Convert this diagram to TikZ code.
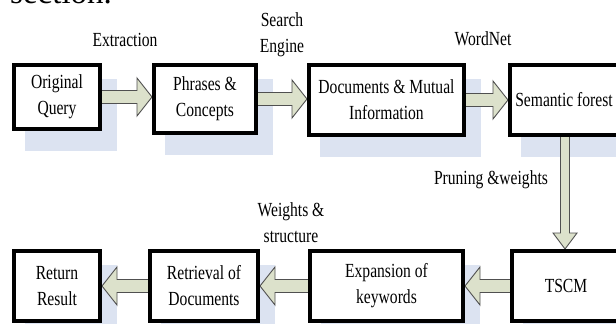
\documentclass[tikz,border=0pt]{standalone}
\usepackage{fontspec}
\setmainfont{Liberation Serif}[FakeStretch=0.78]
\newfontfamily\bodyfont{Liberation Serif}
\usetikzlibrary{calc,backgrounds}
\definecolor{shadowblue}{HTML}{DCE3F1}
\definecolor{arrowfill}{HTML}{DCE1CB}
\definecolor{arrowline}{HTML}{505050}
\tikzset{
  box/.style={draw=black, line width=4pt, fill=white, align=center,
    font=\fontsize{20}{26}\selectfont, inner sep=0pt},
  lbl/.style={align=center, font=\fontsize{20}{26}\selectfont, inner sep=0pt},
  barrow/.style={fill=arrowfill, draw=arrowline, line width=0.9pt, line join=miter},
  shade/.style={fill=shadowblue, draw=none},
}
\newcommand\boxshadow[1]{\fill[shade] ([shift={(13,16)}]#1.north west) rectangle ([shift={(15,20)}]#1.south east);}
\newcommand\arrowright[2]{\draw[barrow] let \p1=(#1.east), \p2=(#2.west) in
  (\x1-3pt,\y1+6.5pt) -- (\x2-15pt,\y1+6.5pt) -- (\x2-15pt,\y1+19pt) -- (\x2,\y1)
  -- (\x2-15pt,\y1-19pt) -- (\x2-15pt,\y1-6.5pt) -- (\x1-3pt,\y1-6.5pt) -- cycle;}
\newcommand\arrowleft[2]{\draw[barrow] let \p1=(#1.west), \p2=(#2.east) in
  (\x1+3pt,\y1+6.5pt) -- (\x2+15pt,\y1+6.5pt) -- (\x2+15pt,\y1+19pt) -- (\x2,\y1)
  -- (\x2+15pt,\y1-19pt) -- (\x2+15pt,\y1-6.5pt) -- (\x1+3pt,\y1-6.5pt) -- cycle;}
\newcommand\arrowdown[2]{\draw[barrow] let \p1=(#1.south), \p2=(#2.north) in
  (\x1-4.5pt,\y1+3pt) -- (\x1-4.5pt,\y2+16pt) -- (\x1-12pt,\y2+16pt) -- (\x1,\y2)
  -- (\x1+12pt,\y2+16pt) -- (\x1+4.5pt,\y2+16pt) -- (\x1+4.5pt,\y1+3pt) -- cycle;}
\begin{document}
\begin{tikzpicture}[x=1pt,y=-1pt]
\useasboundingbox (0,0) rectangle (616,324);
\clip (0,0) rectangle (616,324);

\node[anchor=base west, inner sep=0pt, font=\bodyfont\fontsize{33}{33}\selectfont] (sec) at (10,4) {section.};

% top row
\node[box, minimum width=86, minimum height=64] (oq) at (57,97) {Original\\Query};
\node[box, minimum width=102, minimum height=68] (pc) at (205,99) {Phrases \&\\Concepts};
\node[box, minimum width=155, minimum height=70] (dm) at (386.5,100) {Documents \& Mutual\\Information};
\node[box, minimum width=110, minimum height=70] (sf) at (565,100) {Semantic forest\hspace{2pt}};

% bottom row
\node[box, minimum width=108, minimum height=70] (ts) at (566,286) {TSCM};
\node[box, minimum width=153, minimum height=70] (ek) at (386.5,286) {Expansion of\\keywords};
\node[box, minimum width=108, minimum height=70] (rd) at (204,286) {Retrieval of\\Documents};
\node[box, minimum width=86, minimum height=70] (rr) at (57,286) {Return\\Result};

% labels
\node[lbl] (l1) at (125,40) {Extraction};
\node[lbl] (l2) at (282,35) {Search\\Engine};
\node[lbl] (l3) at (483,39) {WordNet};
\node[lbl] (l4) at (491,180) {Pruning \&weights};
\node[lbl] (l5) at (291,223) {Weights \&\\structure};

\begin{scope}[on background layer]
  \boxshadow{oq}
  \boxshadow{pc}
  \boxshadow{dm}
  \boxshadow{sf}
  \boxshadow{ts}
  \boxshadow{ek}
  \boxshadow{rd}
  \boxshadow{rr}
  \arrowright{oq}{pc}
  \arrowright{pc}{dm}
  \arrowright{dm}{sf}
  \arrowdown{sf}{ts}
  \arrowleft{ts}{ek}
  \arrowleft{ek}{rd}
  \arrowleft{rd}{rr}
\end{scope}
\end{tikzpicture}
\end{document}
